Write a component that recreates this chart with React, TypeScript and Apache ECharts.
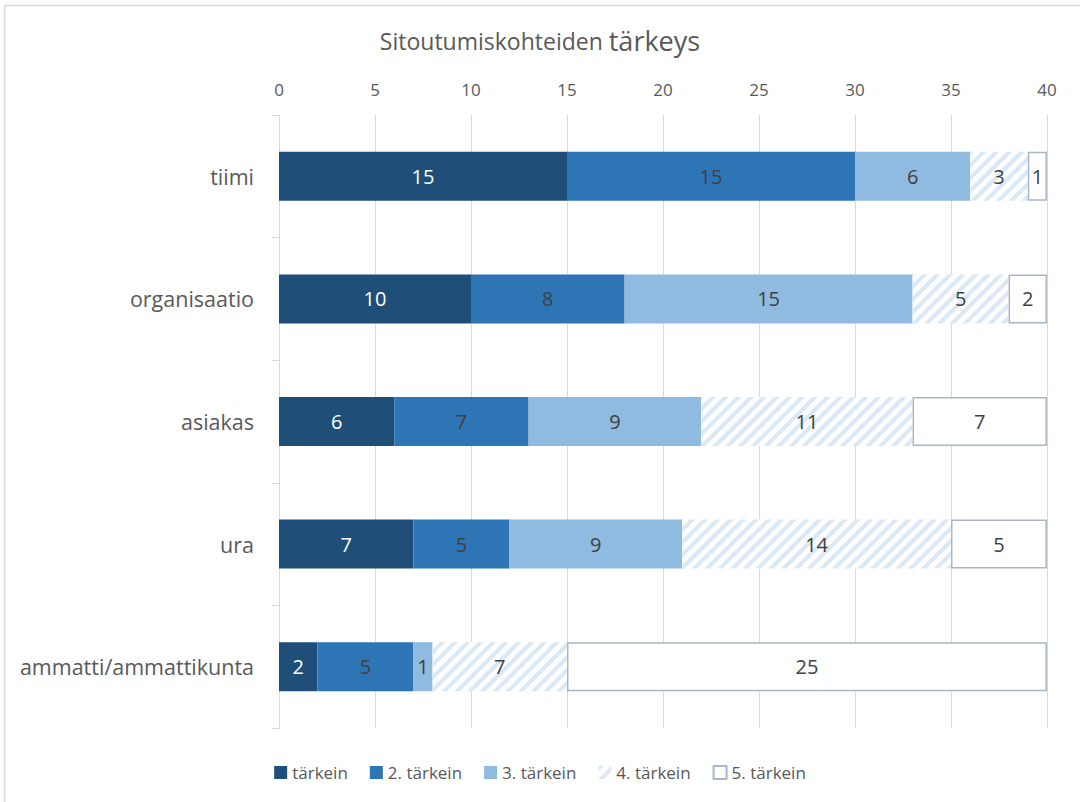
import React, { useEffect, useRef } from "react";
import * as echarts from "echarts";

const categories = ["tiimi", "organisaatio", "asiakas", "ura", "ammatti/ammattikunta"];
const seriesNames = ["tärkein", "2. tärkein", "3. tärkein", "4. tärkein", "5. tärkein"];
const s1 = [15, 10, 6, 7, 2];
const s2 = [15, 8, 7, 5, 5];
const s3 = [6, 15, 9, 9, 1];
const s4 = [3, 5, 11, 14, 7];
const s5 = [1, 2, 7, 5, 25];
const xTicks = { min: 0, max: 40, interval: 5 };

const FONT = "Open Sans";
const TEXT = "#595959";

export default function App() {
  const ref = useRef<HTMLDivElement>(null);
  useEffect(() => {
    if (!ref.current) return;
    const chart = echarts.init(ref.current, undefined, { renderer: "svg" });
    const label = (color: string) => ({
      show: true,
      position: "inside",
      fontSize: 20,
      fontFamily: FONT,
      color,
    });
    const values = [s1, s2, s3, s4, s5];
    const styles: any[] = [
      { color: "#1f4e79" },
      { color: "#2e75b6" },
      { color: "#8fbbe1" },
      {
        color: "#ffffff",
        decal: {
          symbol: "rect",
          color: "#d9e8f6",
          dashArrayX: [1, 0],
          dashArrayY: [4, 5],
          rotation: -Math.PI / 4,
        },
      },
      { color: "#ffffff", borderColor: "#a8b6c8", borderWidth: 1.5 },
    ];
    const labelColors = ["#ffffff", "#404040", "#404040", "#404040", "#404040"];
    chart.setOption({
      animation: false,
      title: {
        text: "{a|Sitoutumiskohteiden }{b|tärkeys}",
        left: "center",
        top: 22,
        textStyle: {
          fontWeight: "normal",
          rich: {
            a: { fontSize: 23, fontFamily: FONT, color: TEXT, fontWeight: "normal" },
            b: { fontSize: 27, fontFamily: FONT, color: TEXT, fontWeight: "normal" },
          },
        },
      },
      legend: {
        bottom: 16,
        left: "center",
        itemWidth: 13,
        itemHeight: 13,
        itemGap: 22,
        icon: "rect",
        textStyle: { fontSize: 17, fontFamily: FONT, color: TEXT },
        data: seriesNames,
      },
      grid: { left: 279, right: 33, top: 115, bottom: 74 },
      xAxis: {
        type: "value",
        position: "top",
        min: xTicks.min,
        max: xTicks.max,
        interval: xTicks.interval,
        axisLine: { show: false },
        axisTick: { show: false },
        axisLabel: { fontSize: 17, fontFamily: FONT, color: TEXT, margin: 17 },
        splitLine: { lineStyle: { color: "#d9d9d9", width: 1 } },
      },
      yAxis: {
        type: "category",
        inverse: true,
        data: categories,
        axisLine: { lineStyle: { color: "#d9d9d9", width: 1 } },
        axisTick: { show: true, length: 7, lineStyle: { color: "#d9d9d9" } },
        axisLabel: { fontSize: 21.5, fontFamily: FONT, color: TEXT, margin: 25 },
      },
      graphic: [
        {
          type: "rect",
          shape: { x: 4.5, y: 5.5, width: 1200, height: 1000 },
          style: { fill: "none", stroke: "#d9d9d9", lineWidth: 1.5 },
          silent: true,
          z: -10,
        },
      ],
      series: seriesNames.map((name, i) => ({
        name,
        type: "bar",
        stack: "total",
        barWidth: 49,
        data: values[i],
        itemStyle: styles[i],
        label: label(labelColors[i]),
      })),
    });
    return () => chart.dispose();
  }, []);
  return (
    <div
      ref={ref}
      style={{ position: "fixed", left: 0, top: 0, width: 1080, height: 802, background: "#fff" }}
    />
  );
}
